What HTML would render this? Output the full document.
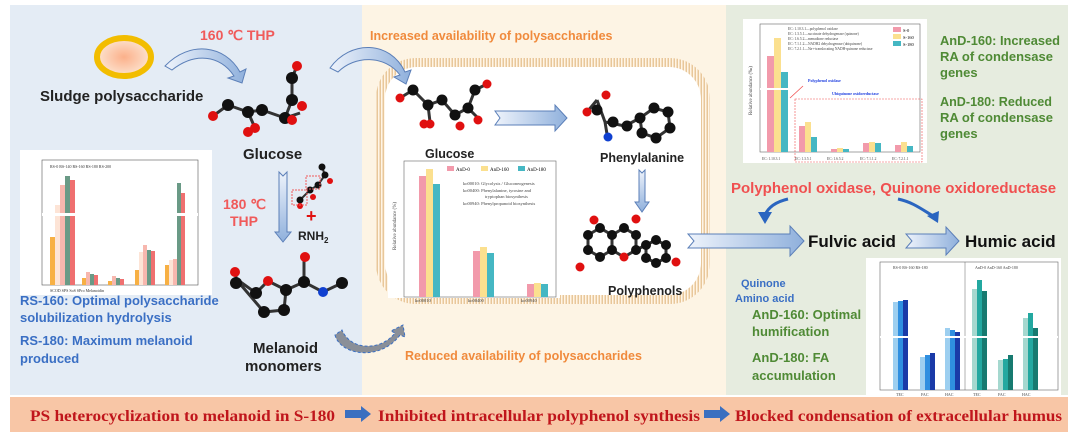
<!DOCTYPE html>
<html><head><meta charset="utf-8"><style>
html,body{margin:0;padding:0;background:#fff;}
svg{display:block;font-family:"Liberation Sans",Arial,sans-serif;}
.b{font-weight:bold}
.ser{font-family:"Liberation Serif",serif}
</style></head><body>
<svg width="1080" height="439" viewBox="0 0 1080 439" xmlns="http://www.w3.org/2000/svg">
<defs>
<linearGradient id="ba" x1="0" x2="1" y1="0" y2="0"><stop offset="0" stop-color="#eef3fb"/><stop offset="1" stop-color="#8fb0dc"/></linearGradient>
<linearGradient id="bd" x1="0" x2="0" y1="0" y2="1"><stop offset="0" stop-color="#eef3fb"/><stop offset="1" stop-color="#8fb0dc"/></linearGradient>
<radialGradient id="el"><stop offset="0" stop-color="#fbb08a"/><stop offset="1" stop-color="#fde3cf"/></radialGradient>
<pattern id="mem" width="3" height="3" patternUnits="userSpaceOnUse"><rect width="3" height="3" fill="#e8c79a"/><rect width="1.5" height="3" fill="#fff5e6"/></pattern>
</defs>
<!-- panels -->
<rect x="10" y="5" width="352" height="390" fill="#e4ecf5"/>
<rect x="362" y="5" width="364" height="390" fill="#fdf4e4"/>
<rect x="726" y="5" width="342" height="390" fill="#e6ecdf"/>
<!-- bottom bar -->
<rect x="10" y="397" width="1058" height="35" fill="#f8c6a6"/>
<text x="30" y="421" class="ser b" font-size="16" fill="#c0161c" textLength="305" lengthAdjust="spacingAndGlyphs">PS heterocyclization to melanoid in S-180</text>
<path d="M345 410 h16 v-4 l10 8 -10 8 v-4 h-16z" fill="#3b6fc0"/>
<text x="378" y="421" class="ser b" font-size="16" fill="#c0161c" textLength="322" lengthAdjust="spacingAndGlyphs">Inhibited intracellular polyphenol synthesis</text>
<path d="M704 410 h16 v-4 l10 8 -10 8 v-4 h-16z" fill="#3b6fc0"/>
<text x="735" y="421" class="ser b" font-size="16" fill="#c0161c" textLength="327" lengthAdjust="spacingAndGlyphs">Blocked condensation of extracellular humus</text>

<!-- LEFT PANEL -->
<text x="200" y="40" class="b" font-size="14" fill="#f05a5a">160 ℃ THP</text>
<ellipse cx="124" cy="57" rx="27" ry="19" fill="url(#el)" stroke="#f2bd00" stroke-width="6"/>
<text x="40" y="101" class="b" font-size="15" fill="#222">Sludge polysaccharide</text>
<path d="M165 66 C190 40 225 45 240 72 l6 -3 -4 14 -14 -5 6 -2 C220 55 195 52 172 70z" fill="url(#ba)" stroke="#5b7fb8" stroke-width="1"/>
<!-- glucose molecule left -->
<g stroke="#333" stroke-width="3" fill="none">
<path d="M213 116 L228 105 L248 112 L262 110 L285 118 L292 100 L292 78 L297 66 M248 112 L255 128 M285 118 L300 113"/>
</g>
<g fill="#111"><circle cx="228" cy="105" r="6"/><circle cx="248" cy="112" r="6"/><circle cx="262" cy="110" r="6"/><circle cx="285" cy="118" r="6"/><circle cx="292" cy="100" r="6"/><circle cx="292" cy="78" r="6"/></g>
<g fill="#e01010"><circle cx="213" cy="116" r="5"/><circle cx="255" cy="128" r="5"/><circle cx="248" cy="132" r="5"/><circle cx="297" cy="66" r="5"/><circle cx="302" cy="106" r="5"/><circle cx="292" cy="120" r="5"/></g>
<text x="243" y="159" class="b" font-size="15" fill="#222">Glucose</text>
<!-- left chart -->
<rect x="20" y="150" width="192" height="145" fill="#fff"/>
<g stroke="#555" stroke-width=".6" fill="none"><rect x="42" y="160" width="156" height="125"/></g>
<g font-size="4" class="ser" fill="#333"><text x="50" y="168">RS-0   RS-140   RS-160   RS-180   RS-200</text>
<text x="50" y="292">SCOD    SPS    SoS    SPro   Melanoidin</text></g>
<g>
<rect x="50" y="237" width="5" height="48" fill="#f7b044"/><rect x="55" y="205" width="5" height="80" fill="#fde4d6"/><rect x="60" y="185" width="5" height="100" fill="#f7b7ae"/><rect x="65" y="176" width="5" height="109" fill="#6a9a86"/><rect x="70" y="180" width="5" height="105" fill="#ef7070"/>
<rect x="82" y="278" width="4" height="7" fill="#f7b044"/><rect x="86" y="272" width="4" height="13" fill="#f7b7ae"/><rect x="90" y="274" width="4" height="11" fill="#6a9a86"/><rect x="94" y="275" width="4" height="10" fill="#ef7070"/>
<rect x="108" y="281" width="4" height="4" fill="#f7b044"/><rect x="112" y="276" width="4" height="9" fill="#f7b7ae"/><rect x="116" y="278" width="4" height="7" fill="#6a9a86"/><rect x="120" y="279" width="4" height="6" fill="#ef7070"/>
<rect x="135" y="270" width="4" height="15" fill="#f7b044"/><rect x="139" y="252" width="4" height="33" fill="#fde4d6"/><rect x="143" y="245" width="4" height="40" fill="#f7b7ae"/><rect x="147" y="250" width="4" height="35" fill="#6a9a86"/><rect x="151" y="251" width="4" height="34" fill="#ef7070"/>
<rect x="165" y="265" width="4" height="20" fill="#f7b044"/><rect x="169" y="260" width="4" height="25" fill="#fde4d6"/><rect x="173" y="259" width="4" height="26" fill="#f7b7ae"/><rect x="177" y="183" width="4" height="102" fill="#6a9a86"/><rect x="181" y="193" width="4" height="92" fill="#ef7070"/>
</g>
<rect x="42" y="213" width="156" height="3" fill="#fff"/>
<!-- 180 THP -->
<text x="223" y="209" class="b" font-size="14" fill="#f05a5a">180 ℃</text>
<text x="230" y="226" class="b" font-size="14" fill="#f05a5a">THP</text>
<path d="M279 172 l4 4 4 -4 v60 h4 l-8 10 -8 -10 h4z" fill="url(#bd)" stroke="#5b7fb8" stroke-width="1"/>
<g stroke="#333" stroke-width="2" fill="none"><path d="M300 200 L310 190 L318 185 L325 175 L322 167"/></g>
<g fill="#111"><circle cx="300" cy="200" r="3.5"/><circle cx="310" cy="190" r="3.5"/><circle cx="318" cy="185" r="3.5"/><circle cx="325" cy="175" r="3.5"/><circle cx="322" cy="167" r="3.5"/></g>
<g fill="#e01010"><circle cx="300" cy="206" r="3"/><circle cx="313" cy="197" r="3"/><circle cx="330" cy="181" r="3"/></g>
<g fill="none" stroke="#f05a5a" stroke-dasharray="2 1"><rect x="292" y="190" width="15" height="15"/><rect x="306" y="176" width="14" height="13"/></g>
<text x="306" y="222" class="b" font-size="18" fill="#e01010">+</text>
<text x="298" y="240" class="b" font-size="12" fill="#222">RNH<tspan font-size="8" dy="3">2</tspan></text>
<!-- melanoid molecule -->
<g stroke="#333" stroke-width="3" fill="none"><path d="M235 278 L256 293 L268 281 L286 290 L284 310 L264 312 Z M286 290 L304 282 L323 292 L342 283 M304 282 L304 258 M236 278 L236 270"/></g>
<g fill="#111"><circle cx="236" cy="283" r="6"/><circle cx="256" cy="293" r="6"/><circle cx="286" cy="290" r="6"/><circle cx="284" cy="310" r="6"/><circle cx="264" cy="312" r="6"/><circle cx="304" cy="282" r="6"/><circle cx="342" cy="283" r="6"/></g>
<g fill="#e01010"><circle cx="268" cy="281" r="5"/><circle cx="305" cy="257" r="5"/><circle cx="235" cy="272" r="5"/></g>
<circle cx="323" cy="292" r="5" fill="#1040d0"/>
<text x="253" y="353" class="b" font-size="15" fill="#222">Melanoid</text>
<text x="245" y="371" class="b" font-size="15" fill="#222">monomers</text>
<g class="b" font-size="13" fill="#3a6fc4">
<text x="20" y="305">RS-160: Optimal polysaccharide</text>
<text x="20" y="322">solubilization hydrolysis</text>
<text x="20" y="345">RS-180: Maximum melanoid</text>
<text x="20" y="363">produced</text></g>
<path d="M335 335 C340 355 380 362 400 335 l5 2 -2 -12 -12 6 4 2 C380 352 350 350 342 330z" fill="#8a8f98" stroke="#3a6fc4" stroke-dasharray="3 2"/>

<!-- MIDDLE PANEL -->
<text x="370" y="40" class="b" font-size="12.5" fill="#f08a3c">Increased availability of polysaccharides</text>
<rect x="376" y="58" width="334" height="246" rx="40" fill="url(#mem)"/>
<rect x="385" y="67" width="316" height="228" rx="32" fill="#fff"/>
<path d="M330 68 C350 40 390 40 405 72 l6 -2 -5 14 -12 -7 6 -2 C385 55 355 55 338 72z" fill="url(#ba)" stroke="#5b7fb8" stroke-width="1"/>
<!-- glucose middle -->
<g stroke="#333" stroke-width="3" fill="none"><path d="M400 98 L413 90 L428 105 L442 100 L455 115 L468 108 L475 90 L487 84 M428 105 L430 122 M468 108 L480 120"/></g>
<g fill="#111"><circle cx="413" cy="90" r="5.5"/><circle cx="428" cy="105" r="5.5"/><circle cx="442" cy="100" r="5.5"/><circle cx="455" cy="115" r="5.5"/><circle cx="468" cy="108" r="5.5"/><circle cx="475" cy="90" r="5.5"/></g>
<g fill="#e01010"><circle cx="400" cy="98" r="4.5"/><circle cx="430" cy="124" r="4.5"/><circle cx="424" cy="124" r="4.5"/><circle cx="460" cy="126" r="4.5"/><circle cx="478" cy="120" r="4.5"/><circle cx="487" cy="84" r="4.5"/></g>
<text x="425" y="158" class="b" font-size="12.5" fill="#222">Glucose</text>
<path d="M495 111 h60 v-6 l12 13 -12 13 v-6 h-60 l5 -7z" fill="url(#ba)" stroke="#5b7fb8"/>
<!-- phenylalanine -->
<g stroke="#333" stroke-width="3" fill="none"><path d="M597 100 L605 122 L625 126 L640 118 M605 122 L608 140 M597 100 L587 112"/><polygon points="640,118 654,108 668,112 670,128 656,138 642,133"/></g>
<g fill="#111"><circle cx="597" cy="110" r="5.5"/><circle cx="613" cy="122" r="5.5"/><circle cx="627" cy="126" r="5.5"/><circle cx="640" cy="118" r="5.5"/><circle cx="654" cy="108" r="5.5"/><circle cx="668" cy="112" r="5.5"/><circle cx="670" cy="128" r="5.5"/><circle cx="656" cy="138" r="5.5"/><circle cx="642" cy="133" r="5.5"/></g>
<g fill="#e01010"><circle cx="606" cy="95" r="4.5"/><circle cx="587" cy="112" r="4.5"/></g>
<circle cx="608" cy="137" r="4.5" fill="#1040d0"/>
<text x="600" y="162" class="b" font-size="12.5" fill="#222">Phenylalanine</text>
<path d="M639 170 l3 3 3 -3 v32 h4 l-7 10 -7 -10 h4z" fill="url(#bd)" stroke="#5b7fb8"/>
<!-- polyphenol -->
<g stroke="#333" stroke-width="3" fill="none"><polygon points="588,235 600,228 612,235 612,250 600,257 588,250"/><polygon points="612,235 624,228 636,235 636,250 624,257 612,250"/><polygon points="646,245 656,240 666,245 666,258 656,263 646,258"/><path d="M636 250 L646 245"/></g>
<g fill="#111"><circle cx="588" cy="235" r="5"/><circle cx="600" cy="228" r="5"/><circle cx="612" cy="235" r="5"/><circle cx="612" cy="250" r="5"/><circle cx="600" cy="257" r="5"/><circle cx="588" cy="250" r="5"/><circle cx="624" cy="228" r="5"/><circle cx="636" cy="235" r="5"/><circle cx="636" cy="250" r="5"/><circle cx="646" cy="245" r="5"/><circle cx="656" cy="240" r="5"/><circle cx="666" cy="245" r="5"/><circle cx="666" cy="258" r="5"/><circle cx="656" cy="263" r="5"/><circle cx="646" cy="258" r="5"/></g>
<g fill="#e01010"><circle cx="594" cy="220" r="4.5"/><circle cx="624" cy="257" r="4.5"/><circle cx="636" cy="219" r="4.5"/><circle cx="580" cy="267" r="4.5"/><circle cx="676" cy="262" r="4.5"/></g>
<text x="608" y="295" class="b" font-size="12.5" fill="#222">Polyphenols</text>
<!-- middle chart -->
<rect x="388" y="158" width="172" height="140" fill="#fff"/>
<rect x="404" y="161" width="152" height="136" fill="none" stroke="#666" stroke-width=".6"/>
<text transform="translate(396,250) rotate(-90)" font-size="5" class="ser" fill="#444">Relative abundance (%)</text>
<rect x="447" y="166" width="7" height="5" fill="#f29aab"/><text x="456" y="171" font-size="5" class="ser">AnD-0</text>
<rect x="481" y="166" width="7" height="5" fill="#fbe08f"/><text x="490" y="171" font-size="5" class="ser">AnD-160</text>
<rect x="518" y="166" width="7" height="5" fill="#45b7c3"/><text x="527" y="171" font-size="5" class="ser">AnD-180</text>
<g font-size="4.5" class="ser" fill="#444"><text x="463" y="185">ko00010:  Glycolysis / Gluconeogenesis</text><text x="463" y="192">ko00400:  Phenylalanine, tyrosine and</text><text x="485" y="198">tryptophan biosynthesis</text><text x="463" y="205">ko00940:  Phenylpropanoid biosynthesis</text>
<text x="415" y="302">ko00010</text><text x="468" y="302">ko00400</text><text x="521" y="302">ko00940</text></g>
<rect x="419" y="176" width="7" height="121" fill="#f29aab"/><rect x="426" y="169" width="7" height="128" fill="#fbe08f"/><rect x="433" y="184" width="7" height="113" fill="#45b7c3"/>
<rect x="473" y="251" width="7" height="46" fill="#f29aab"/><rect x="480" y="247" width="7" height="50" fill="#fbe08f"/><rect x="487" y="253" width="7" height="44" fill="#45b7c3"/>
<rect x="527" y="284" width="7" height="13" fill="#f29aab"/><rect x="534" y="283" width="7" height="14" fill="#fbe08f"/><rect x="541" y="284" width="7" height="13" fill="#45b7c3"/>
<text x="405" y="360" class="b" font-size="12.5" fill="#f08a3c">Reduced availability of polysaccharides</text>

<!-- big arrow to fulvic -->
<path d="M688 234 h102 v-8 l14 15 -14 15 v-8 h-102 l6 -7z" fill="url(#ba)" stroke="#5b7fb8"/>
<text x="808" y="247" class="b" font-size="17" fill="#111">Fulvic acid</text>
<path d="M906 234 h40 v-7 l13 14 -13 14 v-7 h-40 l6 -7z" fill="url(#ba)" stroke="#5b7fb8"/>
<text x="965" y="247" class="b" font-size="17" fill="#111">Humic acid</text>
<text x="741" y="287" class="b" font-size="11" fill="#3a6fc4">Quinone</text>
<text x="735" y="302" class="b" font-size="11" fill="#3a6fc4">Amino acid</text>

<!-- RIGHT PANEL -->
<rect x="743" y="19" width="184" height="144" fill="#fff"/>
<rect x="760" y="24" width="160" height="128" fill="none" stroke="#666" stroke-width=".6"/>
<text transform="translate(752,115) rotate(-90)" font-size="5" class="ser" fill="#444">Relative abundance (‰)</text>
<g font-size="3.6" class="ser" fill="#444"><text x="788" y="30">EC: 1.10.3.1—polyphenol oxidase</text><text x="788" y="35">EC: 1.3.5.1—succinate dehydrogenase (quinone)</text><text x="788" y="40">EC: 1.6.5.2—menadione reductase</text><text x="788" y="45">EC: 7.1.1.2—NADH2 dehydrogenase (ubiquinone)</text><text x="788" y="50">EC: 7.2.1.1—Na+-translocating NADH-quinone reductase</text>
<text x="762" y="160">EC: 1.10.3.1</text><text x="795" y="160">EC: 1.3.5.1</text><text x="827" y="160">EC: 1.6.5.2</text><text x="860" y="160">EC: 7.1.1.2</text><text x="892" y="160">EC: 7.2.1.1</text></g>
<rect x="893" y="27" width="8" height="5" fill="#f29aab"/><text x="903" y="32" font-size="4.5" class="ser">S-0</text>
<rect x="893" y="34" width="8" height="5" fill="#fbe08f"/><text x="903" y="39" font-size="4.5" class="ser">S-160</text>
<rect x="893" y="41" width="8" height="5" fill="#45b7c3"/><text x="903" y="46" font-size="4.5" class="ser">S-180</text>
<rect x="767" y="56" width="7" height="96" fill="#f29aab"/><rect x="774" y="38" width="7" height="114" fill="#fbe08f"/><rect x="781" y="72" width="7" height="80" fill="#45b7c3"/>
<rect x="760" y="88" width="40" height="2" fill="#fff"/>
<text x="808" y="82" font-size="4" class="ser b" fill="#2040e0">Polyphenol oxidase</text>
<path d="M790 98 L803 86" stroke="#f05050" stroke-width=".8"/>
<text x="832" y="95" font-size="4" class="ser b" fill="#2040e0">Ubiquinone oxidoreductase</text>
<rect x="795" y="99" width="127" height="63" fill="none" stroke="#f05050" stroke-width=".6" stroke-dasharray="2 1"/>
<rect x="799" y="126" width="6" height="26" fill="#f29aab"/><rect x="805" y="122" width="6" height="30" fill="#fbe08f"/><rect x="811" y="137" width="6" height="15" fill="#45b7c3"/>
<rect x="831" y="149" width="6" height="3" fill="#f29aab"/><rect x="837" y="148" width="6" height="4" fill="#fbe08f"/><rect x="843" y="149" width="6" height="3" fill="#45b7c3"/>
<rect x="863" y="143" width="6" height="9" fill="#f29aab"/><rect x="869" y="142" width="6" height="10" fill="#fbe08f"/><rect x="875" y="143" width="6" height="9" fill="#45b7c3"/>
<rect x="895" y="145" width="6" height="7" fill="#f29aab"/><rect x="901" y="142" width="6" height="10" fill="#fbe08f"/><rect x="907" y="146" width="6" height="6" fill="#45b7c3"/>
<g class="b" font-size="13" fill="#4f8a35">
<text x="940" y="45" textLength="120" lengthAdjust="spacingAndGlyphs">AnD-160: Increased</text><text x="940" y="61">RA of condensase</text><text x="940" y="77">genes</text>
<text x="940" y="106" textLength="112" lengthAdjust="spacingAndGlyphs">AnD-180: Reduced</text><text x="940" y="122">RA of condensase</text><text x="940" y="138">genes</text>
<text x="752" y="319">AnD-160: Optimal</text><text x="752" y="336">humification</text>
<text x="752" y="362">AnD-180: FA</text><text x="752" y="380">accumulation</text></g>
<text x="731" y="193" class="b" font-size="15" fill="#f05050">Polyphenol oxidase, Quinone oxidoreductase</text>
<path d="M788 199 C775 202 768 208 765 215" fill="none" stroke="#2a65c0" stroke-width="3"/><path d="M758 212 l7 12 7 -12z" fill="#2a65c0"/>
<path d="M898 199 C912 202 920 208 933 216" fill="none" stroke="#2a65c0" stroke-width="3"/><path d="M927 216 l11 7 1 -12z" fill="#2a65c0"/>
<!-- bottom right chart -->
<rect x="866" y="258" width="195" height="138" fill="#fff"/>
<rect x="880" y="262" width="178" height="128" fill="none" stroke="#666" stroke-width=".6"/>
<line x1="965" y1="262" x2="965" y2="390" stroke="#666" stroke-width=".5"/>
<g font-size="4" class="ser" fill="#444"><text x="893" y="269">RS-0  RS-160  RS-180</text><text x="975" y="269">AnD-0  AnD-160  AnD-180</text>
<text x="896" y="396">TEC</text><text x="921" y="396">FAC</text><text x="945" y="396">HAC</text><text x="973" y="396">TEC</text><text x="998" y="396">FAC</text><text x="1022" y="396">HAC</text></g>
<rect x="893" y="302" width="5" height="88" fill="#9dcff0"/><rect x="898" y="301" width="5" height="89" fill="#2f8fe0"/><rect x="903" y="300" width="5" height="90" fill="#1a3aa8"/>
<rect x="920" y="357" width="5" height="33" fill="#9dcff0"/><rect x="925" y="355" width="5" height="35" fill="#2f8fe0"/><rect x="930" y="353" width="5" height="37" fill="#1a3aa8"/>
<rect x="945" y="328" width="5" height="62" fill="#9dcff0"/><rect x="950" y="330" width="5" height="60" fill="#2f8fe0"/><rect x="955" y="332" width="5" height="58" fill="#1a3aa8"/>
<rect x="972" y="289" width="5" height="101" fill="#a5d8cf"/><rect x="977" y="280" width="5" height="110" fill="#23a8a0"/><rect x="982" y="291" width="5" height="99" fill="#177a70"/>
<rect x="998" y="360" width="5" height="30" fill="#a5d8cf"/><rect x="1003" y="359" width="5" height="31" fill="#23a8a0"/><rect x="1008" y="355" width="5" height="35" fill="#177a70"/>
<rect x="1023" y="318" width="5" height="72" fill="#a5d8cf"/><rect x="1028" y="313" width="5" height="77" fill="#23a8a0"/><rect x="1033" y="328" width="5" height="62" fill="#177a70"/>
<rect x="880" y="336" width="178" height="2" fill="#fff"/>
</svg>
</body></html>
